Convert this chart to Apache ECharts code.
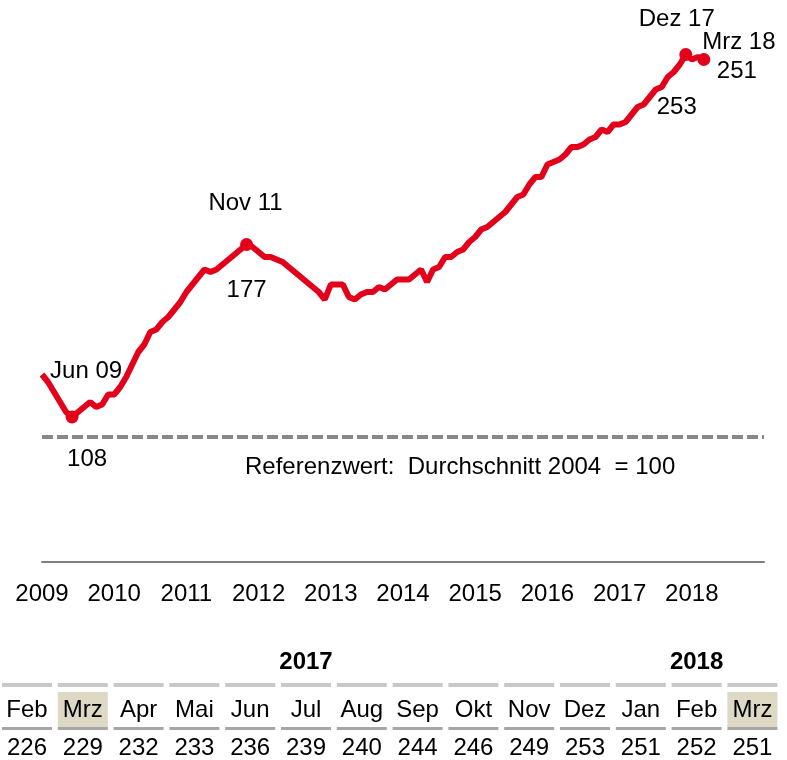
<!DOCTYPE html>
<html lang="de">
<head>
<meta charset="utf-8">
<title>Preisindex</title>
<script src="https://cdn.jsdelivr.net/npm/echarts@6.0.0/dist/echarts.min.js"></script>
<style>
  html, body { margin: 0; padding: 0; background: #fff; }
  #chart { width: 787px; height: 760px; }
</style>
</head>
<body>
<div id="chart"></div>
<script>
// monthly index values, Jan 2009 .. Mrz 2018
const indexValues = [
  125, 122, 118, 114, 110, 108, 110, 112, 114, 112, 113, 117, // 2009
  117, 120, 124, 129, 134, 137, 142, 143, 146, 148, 151, 154, // 2010
  158, 161, 164, 167, 166, 167, 169, 171, 173, 175, 177, 176, // 2011
  174, 172, 172, 171, 170, 168, 166, 164, 162, 160, 158, 155, // 2012
  161, 161, 161, 156, 155, 157, 158, 158, 160, 159, 161, 163, // 2013
  163, 163, 165, 167, 162, 167, 168, 172, 172, 174, 175, 178, // 2014
  180, 183, 184, 186, 188, 190, 193, 196, 197, 201, 204, 204, // 2015
  209, 210, 211, 213, 216, 216, 217, 219, 220, 223, 222, 225, // 2016
  225, 226, 229, 232, 233, 236, 239, 240, 244, 246, 249, 253, // 2017
  251, 252, 251                                               // 2018
]
const firstYear = 2009
const referenceValue = 100

// hervorgehobene Punkte (Monatsindex ab Jan 2009)
const highlightIdx = [5, 34, 107, 110]
const highlightNames = ['Jun 09', 'Nov 11', 'Dez 17', 'Mrz 18']

// Tabelle unten
const tableMonths = ['Feb', 'Mrz', 'Apr', 'Mai', 'Jun', 'Jul', 'Aug', 'Sep', 'Okt', 'Nov', 'Dez', 'Jan', 'Feb', 'Mrz']
const tableValues = indexValues.slice(-tableMonths.length)
const tableYears = [{ col: 5, text: '2017' }, { col: 12, text: '2018' }]
const tableHighlight = [1, 13]

const FONT = "'Liberation Sans', Arial, sans-serif"

// label offsets [name, value] per highlighted point
const nameOffsets = [[14, -46], [-1, -41], [-9, -35], [35, -17]]
const valueOffsets = [[15, 42], [0, 46], [-9, 53], [33, 12]]

const chart = echarts.init(document.getElementById('chart'), null, { renderer: 'canvas' })

// table graphics
const colStart = 2, colPitch = 55.8, colW = 50
const tableGraphics = []
tableMonths.forEach((m, i) => {
  const x = colStart + i * colPitch
  const cx = x + colW / 2
  tableGraphics.push({ type: 'rect', shape: { x, y: 683, width: colW, height: 4 }, style: { fill: '#c8c8c8' } })
  if (tableHighlight.includes(i)) {
    tableGraphics.push({ type: 'rect', shape: { x, y: 692, width: colW, height: 35 }, style: { fill: '#ddd9c4' } })
  }
  tableGraphics.push({ type: 'rect', shape: { x, y: 727, width: colW, height: 3 }, style: { fill: '#a6a6a6' } })
  tableGraphics.push({ type: 'text', style: { x: cx, y: 710, text: m, font: '24px ' + FONT, fill: '#000', align: 'center', verticalAlign: 'middle' } })
  tableGraphics.push({ type: 'text', style: { x: cx, y: 748, text: String(tableValues[i]), font: '24px ' + FONT, fill: '#000', align: 'center', verticalAlign: 'middle' } })
})
tableYears.forEach(y => {
  tableGraphics.push({
    type: 'text',
    style: { x: colStart + y.col * colPitch + colW / 2, y: 662, text: y.text, font: 'bold 24px ' + FONT, fill: '#000', align: 'center', verticalAlign: 'middle' }
  })
})

const pointLabel = (offset, text) => ({
  show: true,
  position: 'inside',
  offset,
  formatter: text,
  fontSize: 24,
  fontFamily: FONT,
  color: '#000',
  opacity: 1
})

const option = {
  animation: false,
  grid: { left: 42, right: 23, top: 12, bottom: 198 },
  xAxis: {
    type: 'value',
    min: 0,
    max: 120,
    interval: 12,
    axisLine: { show: true, onZero: false, lineStyle: { color: '#808080', width: 2 } },
    axisTick: { show: false },
    splitLine: { show: false },
    axisLabel: {
      fontSize: 24,
      fontFamily: FONT,
      color: '#000',
      margin: 20,
      formatter: v => (v < 120 ? String(firstYear + v / 12) : '')
    }
  },
  yAxis: {
    type: 'value',
    min: 50,
    max: 270,
    show: false
  },
  series: [
    {
      type: 'line',
      data: indexValues.map((v, i) => [i, v]),
      symbol: 'none',
      lineStyle: { color: '#e2001a', width: 6 },
      z: 3,
      markLine: {
        silent: true,
        symbol: 'none',
        label: { show: false },
        lineStyle: { color: '#888888', width: 4, type: [11, 4] },
        data: [{ yAxis: referenceValue }]
      }
    },
    {
      // Punkte + Monatsnamen
      type: 'scatter',
      symbolSize: 13,
      itemStyle: { color: '#e2001a', opacity: 1 },
      z: 4,
      data: highlightIdx.map((m, i) => ({
        value: [m, indexValues[m]],
        label: pointLabel(nameOffsets[i], highlightNames[i])
      }))
    },
    {
      // Werte unter den Punkten
      type: 'scatter',
      symbolSize: 0,
      itemStyle: { opacity: 1 },
      z: 4,
      data: highlightIdx.map((m, i) => ({
        value: [m, indexValues[m]],
        label: pointLabel(valueOffsets[i], String(indexValues[m]))
      }))
    }
  ],
  graphic: [
    {
      type: 'text',
      style: {
        x: 245, y: 467,
        text: 'Referenzwert:  Durchschnitt 2004  = 100',
        font: '24px ' + FONT,
        fill: '#000',
        verticalAlign: 'middle'
      }
    },
    ...tableGraphics
  ]
}

chart.setOption(option)
</script>
</body>
</html>
